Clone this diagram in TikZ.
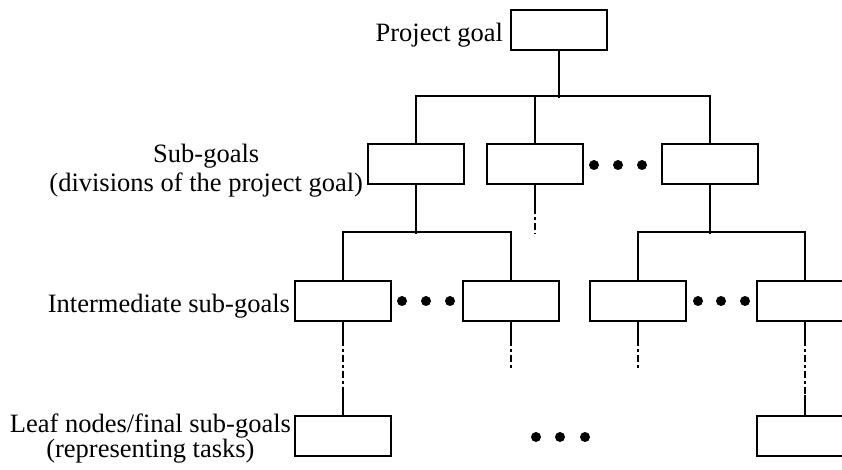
\documentclass[tikz,border=0pt]{standalone}
\usepackage{fontspec}
\setmainfont{Liberation Serif}
\usetikzlibrary{calc}
\begin{document}
\begin{tikzpicture}[x=1pt,y=-1pt,
  goal/.style={draw, line width=1.7pt, minimum width=96pt, minimum height=40pt, inner sep=0pt},
  link/.style={line width=1.7pt},
  faint/.style={line width=1.7pt, dash pattern=on 7pt off 3pt on 3pt off 3pt},
  lbl/.style={font=\fontsize{26.5}{29}\selectfont, align=center, inner sep=0pt},
  dot/.style={circle, fill, inner sep=0pt, minimum size=10pt}
]
\clip (0,0) rectangle (842,469);

% boxes, level by level
\node[goal] (P)  at (559,30)  {};
\node[goal] (S1) at (416,164) {};
\node[goal] (S2) at (535,164) {};
\node[goal] (S3) at (710,164) {};
\node[goal] (I1) at (343,301) {};
\node[goal] (I2) at (511,301) {};
\node[goal] (I3) at (638,301) {};
\node[goal] (I4) at (805,301) {};
\node[goal] (L1) at (343,436) {};
\node[goal] (L2) at (805,436) {};

% ellipsis dots
\node[dot] (ds1) at (594,165) {};
\node[dot] (ds2) at (618,165) {};
\node[dot] (ds3) at (642,165) {};
\node[dot] (dl1) at (402,301) {};
\node[dot] (dl2) at (426,301) {};
\node[dot] (dl3) at (450,301) {};
\node[dot] (dr1) at (698,301) {};
\node[dot] (dr2) at (721,301) {};
\node[dot] (dr3) at (745,301) {};
\node[dot] (df1) at (536,437) {};
\node[dot] (df2) at (560,437) {};
\node[dot] (df3) at (585,437) {};

% labels
\node[lbl, anchor=base east] (tP) at ($(P.west)+(-7,11)$) {Project goal};
\node[lbl, anchor=east] (tS) at ($(S1.west)+(-4,6.4)$) {Sub-goals\\(divisions of the project goal)};
\node[lbl, anchor=base east] (tI) at ($(I1.west)+(-4,11)$) {Intermediate sub-goals};
\node[lbl, anchor=east] (tL) at ($(L1.west)+(-3,2.4)$) {Leaf nodes/final sub-goals\\[-4pt](representing tasks)};

% tree connectors
\draw[link] (P.south) -- ++(0,47);
\draw[link] (S1.north) -- ++(0,-47) -| (S3.north);
\draw[link] (S2.north) -- ++(0,-47);
\draw[link] (S1.south) -- ++(0,49);
\draw[link] (I1.north) -- ++(0,-48) -| (I2.north);
\draw[link] (S3.south) -- ++(0,49);
\draw[link] (I3.north) -- ++(0,-48) -| (I4.north);

% elided branches
\draw[link] (S2.south) -- ++(0,22) coordinate (s2m);
\draw[faint] (s2m) -- ++(0,27);
\draw[link] (I1.south) -- ++(0,17) coordinate (i1m);
\draw[faint] (i1m) -- ++(0,54) coordinate (i1n);
\draw[link] (i1n) -- (L1.north);
\draw[link] (I4.south) -- ++(0,17) coordinate (i4m);
\draw[faint] (i4m) -- ++(0,56) coordinate (i4n);
\draw[link] (i4n) -- (L2.north);
\draw[link] (I2.south) -- ++(0,17) coordinate (i2m);
\draw[faint] (i2m) -- ++(0,32);
\draw[link] (I3.south) -- ++(0,17) coordinate (i3m);
\draw[faint] (i3m) -- ++(0,30);
\end{tikzpicture}
\end{document}
